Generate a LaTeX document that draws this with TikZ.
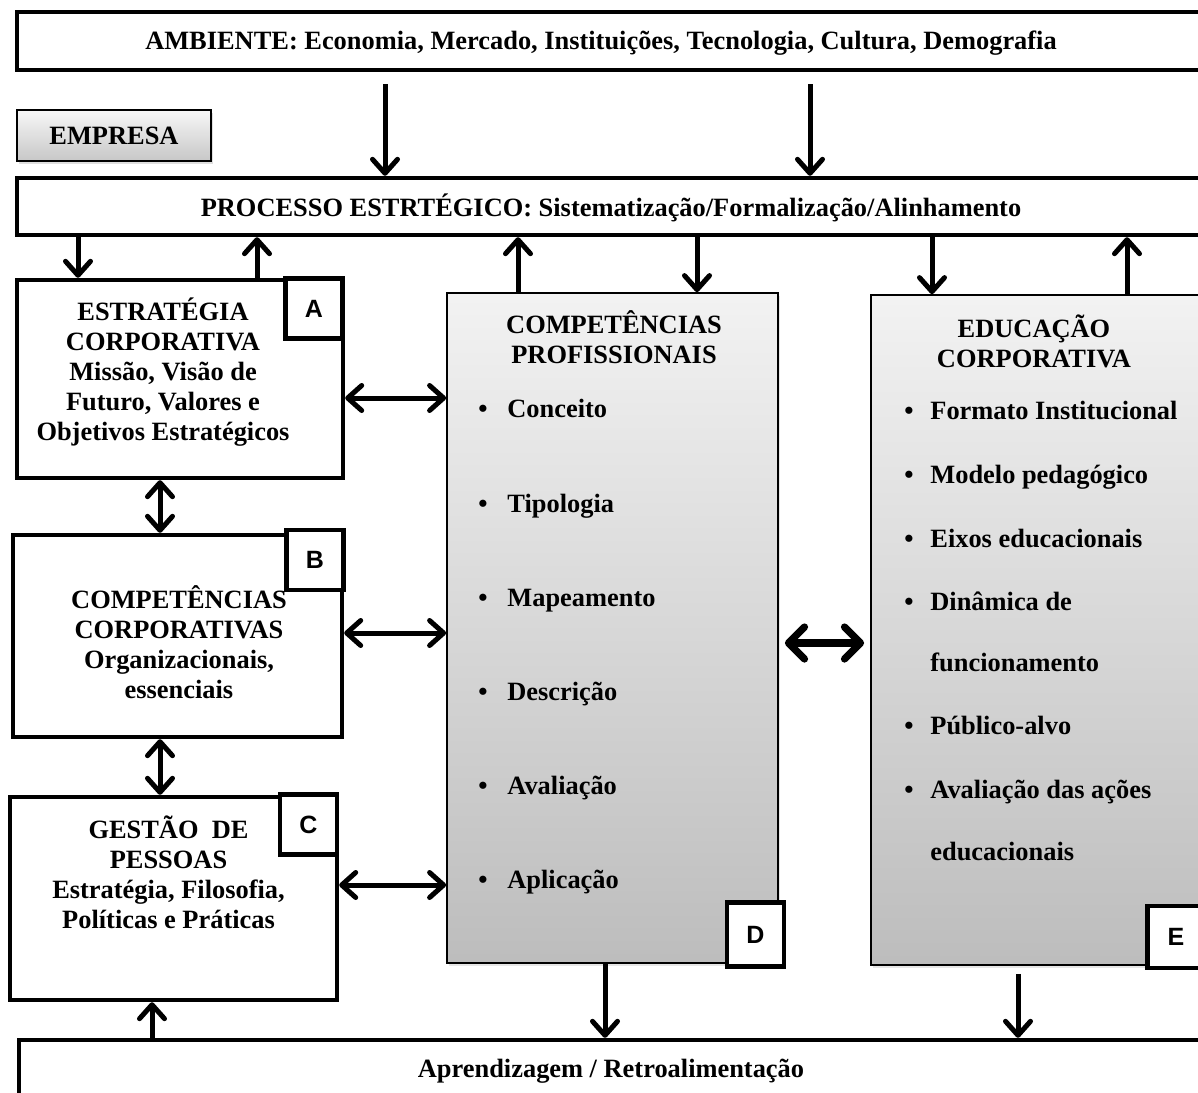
\documentclass[tikz,border=0pt]{standalone}
\usepackage{fontspec}
\setmainfont{Liberation Serif}
\newfontfamily\tagfont{Liberation Sans}
\usetikzlibrary{arrows.meta,shadows}
\definecolor{paneltop}{gray}{0.95}
\definecolor{panelbot}{gray}{0.74}
\definecolor{headtop}{gray}{0.97}
\definecolor{headbot}{gray}{0.78}
\tikzset{
  frame/.style={draw,line width=2.2pt,inner sep=0pt},
  words/.style={font=\bfseries\fontsize{13.2}{15}\selectfont,align=center,inner sep=0pt},
  item/.style={font=\bfseries\fontsize{13.2}{15}\selectfont,anchor=base west,inner sep=0pt},
  panel/.style={draw,line width=0.9pt,inner sep=0pt,top color=paneltop,bottom color=panelbot,
    drop shadow={opacity=0.2,shadow xshift=1pt,shadow yshift=-1.5pt}},
  tag/.style={draw,line width=2.4pt,fill=white,inner sep=0pt,minimum width=28.5pt,minimum height=30pt,
    font=\tagfont\bfseries\fontsize{12.5}{14}\selectfont},
  arr/.style={line width=2.5pt,-{Straight Barb[length=7pt,width=12.5pt,round]}},
  darr/.style={line width=2.5pt,{Straight Barb[length=7pt,width=12.5pt,round]}-{Straight Barb[length=7pt,width=12.5pt,round]}},
  bigarr/.style={line width=3.6pt,{Straight Barb[length=8pt,width=16pt,round]}-{Straight Barb[length=8pt,width=16pt,round]}}
}
\begin{document}
\begin{tikzpicture}[x=0.5pt,y=-0.5pt]
\useasboundingbox (0,0) rectangle (1198,1092);

% ambiente e processo
\node[frame,minimum width=596.5pt,minimum height=29pt] (amb) at (613.5,41) {};
\node[words] (ambtxt) at (601,43) {AMBIENTE: Economia, Mercado, Instituições, Tecnologia, Cultura, Demografia};
\node[draw,line width=0.9pt,top color=headtop,bottom color=headbot,minimum width=97pt,minimum height=25.5pt,
  drop shadow={opacity=0.25,shadow xshift=1pt,shadow yshift=-1.5pt},words] (emp) at (114,135.5) {EMPRESA};
\node[frame,minimum width=596.5pt,minimum height=28.5pt] (proc) at (613.5,206.5) {};
\node[words] (proctxt) at (611,208) {PROCESSO ESTRTÉGICO: Sistematização/Formalização/Alinhamento};

% caixas da esquerda
\node[frame,minimum width=163pt,minimum height=99pt] (A) at (180,379) {};
\node[words] (Atxt) at (163,372) {ESTRATÉGIA\\CORPORATIVA\\Missão, Visão de\\Futuro, Valores e\\Objetivos Estratégicos};
\node[tag] (Atag) at (314,308.5) {A};
\node[frame,minimum width=164.5pt,minimum height=101pt] (B) at (177.5,636) {};
\node[words] (Btxt) at (179,642) {COMPETÊNCIAS\\CORPORATIVAS\\Organizacionais,\\essenciais};
\node[tag] (Btag) at (315,560) {B};
\node[frame,minimum width=163.5pt,minimum height=101.5pt] (C) at (173.5,898.5) {};
\node[words] (Ctxt) at (168.5,872) {GESTÃO~~DE\\PESSOAS\\Estratégia, Filosofia,\\Políticas e Práticas};
\node[tag] (Ctag) at (308.5,824.5) {C};

% paineis
\node[panel,minimum width=165.5pt,minimum height=335pt] (D) at (612.5,628) {};
\node[words] (Dtxt) at (614,337) {COMPETÊNCIAS\\PROFISSIONAIS};
\node[item] (d1) at (478,417) {\makebox[14.5pt][l]{\textbullet}Conceito};
\node[item] (d2) at (478,512) {\makebox[14.5pt][l]{\textbullet}Tipologia};
\node[item] (d3) at (478,606) {\makebox[14.5pt][l]{\textbullet}Mapeamento};
\node[item] (d4) at (478,700) {\makebox[14.5pt][l]{\textbullet}Descrição};
\node[item] (d5) at (478,794) {\makebox[14.5pt][l]{\textbullet}Avaliação};
\node[item] (d6) at (478,888) {\makebox[14.5pt][l]{\textbullet}Aplicação};
\node[tag,minimum height=32pt] (Dtag) at (755.5,934.5) {D};

\node[panel,minimum width=165pt,minimum height=335pt] (E) at (1036,630) {};
\node[words] (Etxt) at (1034,341) {EDUCAÇÃO\\CORPORATIVA};
\node[item] (e1) at (904,419) {\makebox[13pt][l]{\textbullet}Formato Institucional};
\node[item] (e2) at (904,483) {\makebox[13pt][l]{\textbullet}Modelo pedagógico};
\node[item] (e3) at (904,547) {\makebox[13pt][l]{\textbullet}Eixos educacionais};
\node[item] (e4) at (904,610) {\makebox[13pt][l]{\textbullet}Dinâmica de};
\node[item] (e5) at (930,671) {funcionamento};
\node[item] (e6) at (904,734) {\makebox[13pt][l]{\textbullet}Público-alvo};
\node[item] (e7) at (904,798) {\makebox[13pt][l]{\textbullet}Avaliação das ações};
\node[item] (e8) at (930,860) {educacionais};
\node[tag,minimum height=31pt] (Etag) at (1176,937) {E};

% base
\node[frame,minimum width=596pt,minimum height=35pt] (apr) at (615,1075) {};
\node[words] (aprtxt) at (611,1071) {Aprendizagem / Retroalimentação};

% colunas e linhas das setas
\coordinate (k1) at (385,0);
\coordinate (k2) at (810,0);
\coordinate (k3) at (78,0);
\coordinate (k4) at (257,0);
\coordinate (k5) at (518,0);
\coordinate (k6) at (697,0);
\coordinate (k7) at (932,0);
\coordinate (k8) at (1127,0);
\coordinate (k9) at (160,0);
\coordinate (k10) at (605,0);
\coordinate (k11) at (1018,0);
\coordinate (k12) at (152,0);
\coordinate (r1) at (0,398);
\coordinate (r2) at (0,633);
\coordinate (r3) at (0,885);
\coordinate (r4) at (0,643);

\draw[arr,shorten <=6pt] (amb.south -| k1) -- (proc.north -| k1);
\draw[arr,shorten <=6pt] (amb.south -| k2) -- (proc.north -| k2);
\draw[arr] (proc.south -| k3) -- (A.north -| k3);
\draw[arr] (A.north -| k4) -- (proc.south -| k4);
\draw[arr] (D.north -| k5) -- (proc.south -| k5);
\draw[arr] (proc.south -| k6) -- (D.north -| k6);
\draw[arr] (proc.south -| k7) -- (E.north -| k7);
\draw[arr] (E.north -| k8) -- (proc.south -| k8);
\draw[darr] (A.south -| k9) -- (B.north -| k9);
\draw[darr] (B.south -| k9) -- (C.north -| k9);
\draw[darr] (A.east |- r1) -- (D.west |- r1);
\draw[darr] (B.east |- r2) -- (D.west |- r2);
\draw[darr] (C.east |- r3) -- (D.west |- r3);
\draw[bigarr,shorten <=3pt,shorten >=3pt] (D.east |- r4) -- (E.west |- r4);
\draw[arr] (D.south -| k10) -- (apr.north -| k10);
\draw[arr,shorten <=4pt] (E.south -| k11) -- (apr.north -| k11);
\draw[arr] (apr.north -| k12) -- (C.south -| k12);
\end{tikzpicture}
\end{document}
